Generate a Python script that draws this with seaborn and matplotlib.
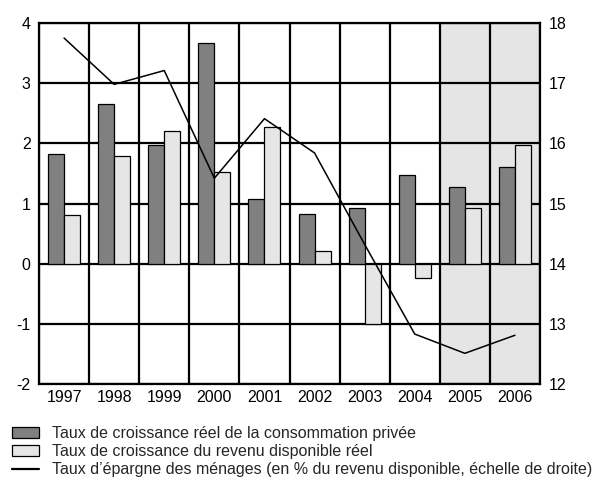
import numpy as np
import pandas as pd
import matplotlib
matplotlib.use("Agg")
import matplotlib.pyplot as plt
import seaborn as sns
from matplotlib.patches import Patch
from matplotlib.lines import Line2D

years = ["1997", "1998", "1999", "2000", "2001", "2002", "2003", "2004", "2005", "2006"]
consommation = [1.83, 2.66, 1.98, 3.67, 1.07, 0.83, 0.93, 1.48, 1.28, 1.61]
revenu = [0.81, 1.79, 2.20, 1.52, 2.27, 0.21, -1.01, -0.24, 0.93, 1.98]
epargne = [17.75, 16.98, 17.21, 15.42, 16.41, 15.84, 14.32, 12.83, 12.51, 12.81]

lab_cons = "Taux de croissance réel de la consommation privée"
lab_rev = "Taux de croissance du revenu disponible réel"
lab_ep = "Taux d\u2019épargne des ménages (en % du revenu disponible, échelle de droite)"

sns.set_theme(style="white")
plt.rcParams["font.family"] = ["Liberation Sans", "DejaVu Sans"]
plt.rcParams["axes.unicode_minus"] = False

df = pd.DataFrame({
    "year": years * 2,
    "serie": [lab_cons] * len(years) + [lab_rev] * len(years),
    "value": consommation + revenu,
})

fig = plt.figure(figsize=(5.98, 4.8), dpi=100)
ax = fig.add_axes([39 / 598, 1 - 384 / 480, 501 / 598, 361 / 480])

ax.axvspan(7.5, 9.5, color="#e5e5e5", zorder=0, lw=0)

sns.barplot(data=df, x="year", y="value", hue="serie", order=years,
            palette=["#808080", "#e6e6e6"], width=0.64, edgecolor="black",
            linewidth=0.9, ax=ax, legend=False, zorder=2)

ax.set_xlim(-0.5, 9.5)
ax.set_ylim(-2, 4)
ax.set_yticks(np.arange(-2, 5, 1))
ax.set_xticks(np.arange(-0.5, 10, 1), minor=True)
ax.set_axisbelow(True)
ax.grid(False)
ax.yaxis.grid(True, which="major", color="black", lw=1.6, zorder=0.5)
ax.xaxis.grid(True, which="minor", color="black", lw=1.6, zorder=0.5)
ax.set_xlabel("")
ax.set_ylabel("")
for s in ax.spines.values():
    s.set_color("black")
    s.set_linewidth(1.6)
ax.tick_params(axis="both", which="both", length=0, labelsize=11.5, colors="black")
ax.tick_params(axis="y", pad=6)
ax.tick_params(axis="x", pad=4)

ax2 = ax.twinx()
sns.lineplot(x=np.arange(len(years)), y=epargne, color="black", lw=1.1, ax=ax2)
ax2.set_ylim(12, 18)
ax2.set_yticks(np.arange(12, 19, 1))
ax2.set_xlim(-0.5, 9.5)
ax2.tick_params(axis="y", length=0, labelsize=11.5, pad=6, colors="black")
for s in ax2.spines.values():
    s.set_visible(False)
ax2.grid(False)

handles = [
    Patch(facecolor="#808080", edgecolor="black", lw=0.9),
    Patch(facecolor="#e6e6e6", edgecolor="black", lw=0.9),
    Line2D([], [], color="black", lw=1.6),
]
fig.legend(handles, [lab_cons, lab_rev, lab_ep], loc="upper left",
           bbox_to_anchor=(12 / 598, 1 - 426 / 480), frameon=False,
           fontsize=11.5, handlelength=1.7, handleheight=0.65,
           handletextpad=0.8, labelspacing=0.2, borderpad=0, borderaxespad=0)

fig.savefig("out.png", dpi=100)
